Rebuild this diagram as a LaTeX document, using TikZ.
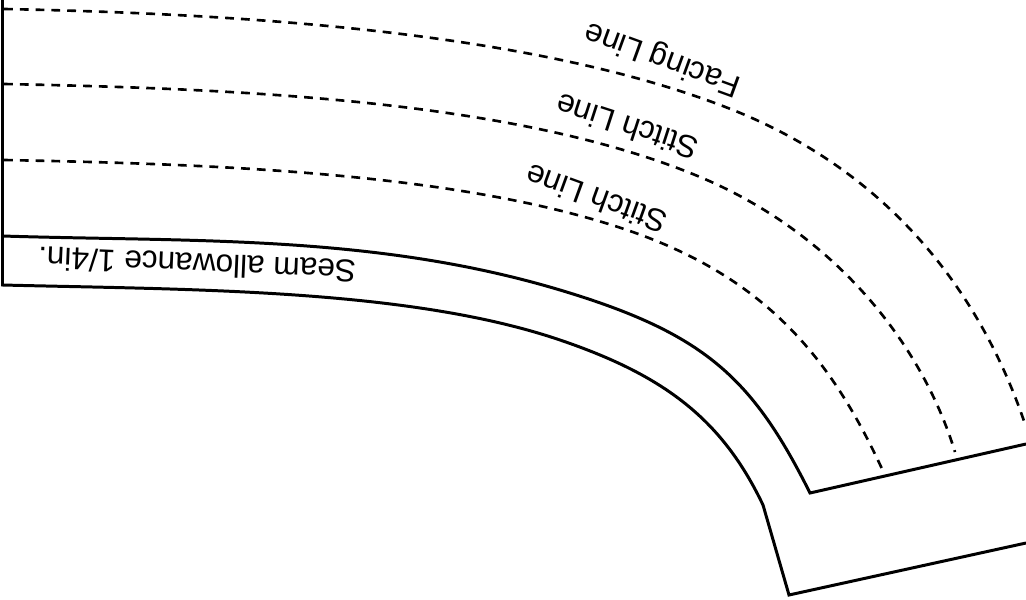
\documentclass[tikz,border=0pt]{standalone}
\usepackage{fontspec}
\setmainfont{Liberation Sans}

\begin{document}
\begin{tikzpicture}[x=0.02cm, y=0.02cm,
    cutline/.style={line width=1.7pt, line join=miter},
    stitchline/.style={line width=1.5pt, dash pattern=on 5pt off 4pt},
    patlabel/.style={inner sep=0pt, font=\fontsize{18}{22}\selectfont}]
  \useasboundingbox (0,0) rectangle (1026,599);
  % outer edge
  \draw[cutline] (2.5,599) -- (2.5,314)
        .. controls (189.5,309.3) and (408.5,310.5) .. (560,259)
        .. controls (664.2,223.6) and (722.1,179.8) .. (763,94)
        -- (789,4) -- (1026,56);
  % seam line
  \draw[cutline] (2.5,363)
        .. controls (190,357) and (373,365) .. (560,309)
        .. controls (703.7,265.9) and (751.9,222.2) .. (810,106)
        -- (1026,155);
  % stitch lines
  \draw[stitchline] (4,439)
        .. controls (209,435) and (456.5,427) .. (627,369)
        .. controls (769,320.7) and (832.7,237) .. (883,128);
  \draw[stitchline] (4,515)
        .. controls (234,510.4) and (515.6,499.4) .. (700,422)
        .. controls (833.7,365.9) and (921.2,256.9) .. (955,147);
  % facing line
  \draw[stitchline] (4,590)
        .. controls (244,585.2) and (538.1,566.9) .. (733,489)
        .. controls (890.8,425.9) and (981.8,304.9) .. (1026,172);
  \node[patlabel, rotate=160] (facing) at (663,541) {Facing Line};
  \node[patlabel, rotate=162] (stitchA) at (627,472) {Stitch Line};
  \node[patlabel, rotate=160] (stitchB) at (596,400) {Stitch Line};
  \node[patlabel, rotate=177.5] (seam) at (197,334) {Seam allowance 1/4in.};
\end{tikzpicture}
\end{document}
